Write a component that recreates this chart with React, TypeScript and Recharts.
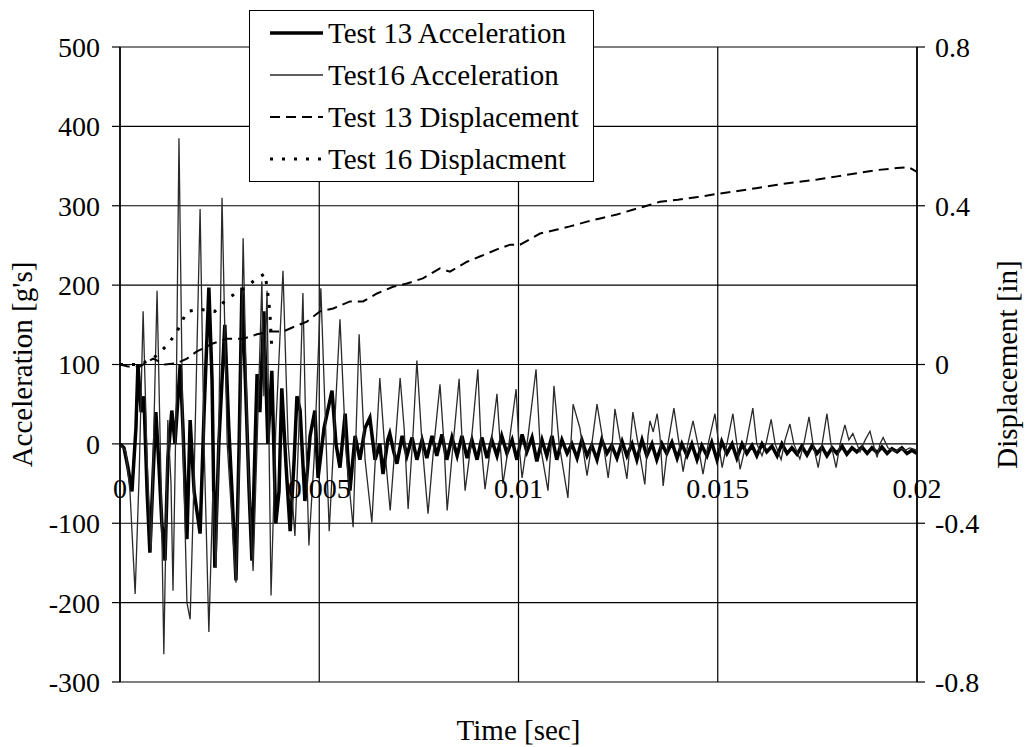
import React from "react"
import { LineChart, Line, XAxis, YAxis, CartesianGrid, Legend, Label } from "recharts"

const FONT = "Liberation Serif"

// all times in ms, converted to seconds for the axis
const test13AccTime = [
  0, 0.1, 0.2, 0.3, 0.4, 0.45, 0.53, 0.6, 0.68, 0.75, 0.83, 0.9, 0.98, 1.05, 1.13, 1.2, 1.3, 1.38, 1.51, 1.58,
  1.68, 1.76, 1.86, 2.01, 2.11, 2.23, 2.31, 2.38, 2.48, 2.63, 2.73, 2.81, 2.91, 2.99, 3.06, 3.16, 3.24, 3.31, 3.39, 3.44,
  3.51, 3.61, 3.71, 3.81, 3.91, 3.99, 4.06, 4.17, 4.27, 4.37, 4.44, 4.52, 4.64, 4.77, 4.89, 4.97, 5.12, 5.32, 5.42, 5.52,
  5.65, 5.77, 5.9, 6.02, 6.15, 6.27, 6.4, 6.52, 6.6, 6.72, 6.77, 6.87, 6.95, 7.08, 7.2, 7.33, 7.45, 7.58, 7.7, 7.83,
  7.95, 8.08, 8.2, 8.33, 8.46, 8.58, 8.71, 8.83, 8.96, 9.08, 9.21, 9.33, 9.46, 9.58, 9.71, 9.84, 9.96, 10.09, 10.21, 10.34,
  10.46, 10.59, 10.71, 10.84, 10.96, 11.09, 11.22, 11.34, 11.47, 11.59, 11.72, 11.84, 11.97, 12.09, 12.22, 12.34, 12.47, 12.6, 12.72, 12.85,
  12.97, 13.1, 13.22, 13.35, 13.47, 13.6, 13.72, 13.85, 13.98, 14.1, 14.23, 14.35, 14.48, 14.6, 14.73, 14.85, 14.98, 15.1, 15.23, 15.36,
  15.48, 15.61, 15.73, 15.86, 15.98, 16.11, 16.23, 16.36, 16.49, 16.61, 16.74, 16.86, 16.99, 17.11, 17.24, 17.37, 17.49, 17.62, 17.74, 17.87,
  17.99, 18.12, 18.24, 18.37, 18.49, 18.62, 18.75, 18.87, 19.0, 19.12, 19.25, 19.37, 19.5, 19.62, 19.75, 19.87, 20.0,
]
const test13AccValue = [
  0, -5, -30, -60, 20, 100, 40, 60, -60, -137, -40, 40, -30, -100, -147, -20, 42, 0, 100, 20,
  -120, 30, -60, -113, 40, 197, 80, -156, 0, 150, 20, -60, -172, 0, 197, 60, -60, -147, 0, 88,
  40, 167, 0, 92, -100, -60, 70, -30, -110, -20, 60, 42, -72, 10, 42, -43, 20, 67, 0, -30,
  38, -59, 10, -20, 20, 33, -20, 0, -38, 5, 13, -10, -25, 10, -15, 8, -20, 5, -18, 10,
  -15, 12, -20, 8, -15, 10, -18, 5, -20, 8, -18, 5, -15, 10, -12, 5, -20, 12, -10, 8,
  -22, 5, -15, 10, -20, 5, -12, 0, -18, 5, -15, -2, -20, 5, -12, -2, -18, 3, -15, 0,
  -20, 5, -15, 0, -20, 0, -12, 2, -18, 0, -15, 0, -20, -2, -15, 2, -20, 3, -12, 0,
  -18, 0, -12, -2, -15, 0, -10, -3, -15, 0, -12, -5, -13, -3, -14, -2, -12, -4, -15, -5,
  -12, -3, -13, -5, -10, -4, -12, -5, -11, -4, -12, -6, -10, -5, -12, -8, -12,
]

const test16AccTime = [
  0, 0.15, 0.25, 0.38, 0.48, 0.58, 0.68, 0.78, 0.85, 0.93, 1.03, 1.1, 1.2, 1.28, 1.33, 1.41, 1.48, 1.58, 1.68, 1.76,
  1.86, 2.01, 2.11, 2.23, 2.33, 2.41, 2.48, 2.56, 2.69, 2.79, 2.91, 3.01, 3.09, 3.21, 3.34, 3.44, 3.56, 3.61, 3.69, 3.79,
  3.91, 4.09, 4.22, 4.39, 4.49, 4.59, 4.67, 4.74, 4.87, 5.04, 5.25, 5.52, 5.67, 5.85, 6.0, 6.15, 6.32, 6.52, 6.65, 6.78,
  7.03, 7.13, 7.23, 7.35, 7.45, 7.58, 7.73, 7.88, 8.03, 8.13, 8.21, 8.36, 8.51, 8.58, 8.66, 8.81, 8.98, 9.06, 9.16, 9.31,
  9.46, 9.54, 9.61, 9.76, 9.94, 10.01, 10.09, 10.24, 10.44, 10.54, 10.74, 10.82, 10.89, 11.02, 11.24, 11.37, 11.54, 11.72, 11.84, 11.97,
  12.1, 12.25, 12.35, 12.42, 12.55, 12.72, 12.8, 12.87, 13.0, 13.17, 13.25, 13.3, 13.38, 13.48, 13.55, 13.63, 13.75, 13.9, 14.03, 14.13,
  14.25, 14.38, 14.5, 14.63, 14.76, 14.93, 15.01, 15.11, 15.23, 15.38, 15.48, 15.56, 15.71, 15.88, 15.98, 16.11, 16.21, 16.34, 16.44, 16.59,
  16.69, 16.81, 16.91, 17.06, 17.16, 17.29, 17.39, 17.52, 17.62, 17.74, 17.84, 17.97, 18.07, 18.19, 18.29, 18.39, 18.49, 18.57, 18.7, 18.82,
  18.9, 19.0, 19.07, 19.15, 19.27, 19.45, 19.57, 19.7, 19.82, 20.0,
]
const test16AccValue = [
  0, -10, -60, -189, -40, 167, -20, -135, 20, 193, -50, -265, 30, -50, -185, 50, 385, 0, -200, -221,
  -40, 296, 0, -237, -60, -156, 20, 310, 0, -80, -175, 0, 259, -20, -160, 0, 205, 60, 193, -191,
  20, 218, 0, -116, 20, 190, 0, -128, -20, 196, -110, 157, -10, -105, 138, -20, -99, 83, -10, -84,
  83, 20, -82, 10, 105, 0, -88, 0, 75, 0, -84, 0, 82, 10, -59, 0, 94, 0, -57, 0,
  63, 0, -50, 0, 69, 0, -43, 10, 94, 0, -59, 0, 73, 0, -68, 50, 20, -40, 0, 50,
  10, -43, 0, 44, 5, -44, 0, 40, 0, -51, 10, 29, 15, 38, 10, -53, 0, 45, 0, -35,
  0, 29, 0, -38, 0, 38, 5, -30, 0, 38, 0, -32, 0, 45, 0, -15, 0, 31, 0, -20,
  5, 25, 0, -19, 0, 34, 0, -30, 0, 38, 0, -30, 0, 24, 5, 13, 0, -10, 5, 16,
  0, -17, 0, 8, -5, -10, -5, -8, -5, -8,
]

const test13DispTime = [
  0, 0.2, 0.5, 0.83, 1.13, 1.43, 1.68, 1.93, 2.08, 2.33, 2.69, 3.09, 3.44, 3.76, 4.09, 4.39, 4.69, 5.02, 5.35, 5.77,
  6.1, 6.45, 6.85, 7.2, 7.6, 8.03, 8.28, 8.71, 9.03, 9.46, 9.79, 10.04, 10.54, 10.97, 11.29, 11.72, 12.05, 12.47, 12.87, 13.22,
  13.55, 14.0, 14.5, 15.0, 15.5, 16.0, 16.5, 17.0, 17.5, 18.0, 18.5, 19.0, 19.5, 19.8, 20.0,
]
const test13DispValue = [
  0, -0.005, -0.005, 0.015, 0, 0.003, 0.015, 0.033, 0.04, 0.053, 0.065, 0.065, 0.076, 0.083, 0.083, 0.096, 0.108, 0.134, 0.141, 0.159,
  0.159, 0.179, 0.196, 0.204, 0.217, 0.242, 0.234, 0.259, 0.272, 0.29, 0.302, 0.302, 0.33, 0.34, 0.348, 0.36, 0.368, 0.378, 0.39, 0.4,
  0.41, 0.415, 0.422, 0.43, 0.437, 0.445, 0.453, 0.46, 0.466, 0.474, 0.482, 0.49, 0.495, 0.497, 0.485,
]

const test16DispTime = [0, 0.5, 0.83, 1.2, 1.43, 1.68, 2.01, 2.38, 2.69, 3.09, 3.44, 3.64, 3.71, 3.76, 3.81]
const test16DispValue = [0, 0, 0.015, 0.05, 0.083, 0.134, 0.139, 0.134, 0.166, 0.19, 0.217, 0.229, 0.179, 0.134, 0.038]

const timeTicks = [0, 0.005, 0.01, 0.015, 0.02]
const accTicks = [-300, -200, -100, 0, 100, 200, 300, 400, 500]
const dispTicks = [-0.8, -0.4, 0, 0.4, 0.8]

const toPoints = (times: number[], values: number[]) => times.map((t, i) => ({ t: t / 1000, v: values[i] }))

const series = [
  { name: "Test 13 Acceleration", data: toPoints(test13AccTime, test13AccValue), axis: "left", color: "#000", width: 3.5, dash: undefined },
  { name: "Test16 Acceleration", data: toPoints(test16AccTime, test16AccValue), axis: "left", color: "#2a2a2a", width: 1.3, dash: undefined },
  { name: "Test 13 Displacement", data: toPoints(test13DispTime, test13DispValue), axis: "right", color: "#000", width: 2, dash: "10 6" },
  { name: "Test 16 Displacment", data: toPoints(test16DispTime, test16DispValue), axis: "right", color: "#000", width: 3, dash: "3 9" },
]

const tickStyle = { fill: "#000", fontSize: 28, fontFamily: FONT }

function XTick({ x, y, payload }: any) {
  // labels sit just under the zero line, not at the bottom of the plot
  return (
    <text x={x} y={y - 184} textAnchor="middle" fill="#000" fontSize={28} fontFamily={FONT}>
      {String(payload.value)}
    </text>
  )
}

function LegendBox() {
  return (
    <div
      style={{
        width: 345,
        height: 172,
        border: "1.5px solid #000",
        background: "#fff",
        boxSizing: "border-box",
        paddingTop: 1,
        fontFamily: FONT,
        fontSize: 29,
        color: "#000",
      }}
    >
      {series.map((s) => (
        <div key={s.name} style={{ display: "flex", alignItems: "center", height: 42, whiteSpace: "nowrap" }}>
          <svg width={78} height={10} style={{ flex: "none" }}>
            <line x1={20} x2={73} y1={5} y2={5} stroke={s.color} strokeWidth={s.width} strokeDasharray={s.dash} />
          </svg>
          <span>{s.name}</span>
        </div>
      ))}
    </div>
  )
}

const leftTitle = (props: any) => {
  const { x, y, height } = props.viewBox
  const cx = x + 22
  const cy = y + height / 2
  return (
    <text x={cx} y={cy} transform={`rotate(-90 ${cx} ${cy})`} textAnchor="middle" dominantBaseline="central" fill="#000" fontSize={29} fontFamily={FONT}>
      Acceleration [g's]
    </text>
  )
}

const rightTitle = (props: any) => {
  const { x, y, height } = props.viewBox
  const cx = x + 90
  const cy = y + height / 2
  return (
    <text x={cx} y={cy} transform={`rotate(-90 ${cx} ${cy})`} textAnchor="middle" dominantBaseline="central" fill="#000" fontSize={29} fontFamily={FONT}>
      Displacement [in]
    </text>
  )
}

const bottomTitle = (props: any) => {
  const { x, y, width } = props.viewBox
  return (
    <text x={x + width / 2} y={y + 58} textAnchor="middle" fill="#000" fontSize={29} fontFamily={FONT}>
      Time [sec]
    </text>
  )
}

export default function App() {
  return (
    <div style={{ position: "absolute", left: 0, top: 0, background: "#fff", fontFamily: FONT }}>
      <LineChart width={1028} height={747} margin={{ top: 47, right: 0, bottom: 0, left: 0 }}>
        <CartesianGrid yAxisId="left" stroke="#000" strokeWidth={1.2} />
        <XAxis
          type="number"
          dataKey="t"
          domain={[0, 0.02]}
          ticks={timeTicks}
          interval={0}
          allowDataOverflow
          height={65}
          axisLine={false}
          tickLine={false}
          tickSize={0}
          tickMargin={0}
          tick={<XTick />}
        >
          <Label content={bottomTitle} />
        </XAxis>
        <YAxis
          yAxisId="left"
          domain={[-300, 500]}
          ticks={accTicks}
          interval={0}
          allowDataOverflow
          width={120}
          tickSize={8}
          tickMargin={12}
          tick={tickStyle}
          axisLine={{ stroke: "#000", strokeWidth: 1.5 }}
          tickLine={{ stroke: "#000", strokeWidth: 1.2 }}
        >
          <Label content={leftTitle} />
        </YAxis>
        <YAxis
          yAxisId="right"
          orientation="right"
          domain={[-0.8, 0.8]}
          ticks={dispTicks}
          interval={0}
          allowDataOverflow
          width={111}
          tickSize={8}
          tickMargin={10}
          tick={tickStyle}
          axisLine={{ stroke: "#000", strokeWidth: 1.5 }}
          tickLine={{ stroke: "#000", strokeWidth: 1.2 }}
        >
          <Label content={rightTitle} />
        </YAxis>
        {series.map((s) => (
          <Line
            key={s.name}
            data={s.data}
            dataKey="v"
            name={s.name}
            yAxisId={s.axis}
            type="linear"
            stroke={s.color}
            strokeWidth={s.width}
            strokeDasharray={s.dash}
            dot={false}
            activeDot={false}
            isAnimationActive={false}
          />
        ))}
        <Legend
          layout="vertical"
          align="center"
          verticalAlign="middle"
          content={<LegendBox />}
          wrapperStyle={{ left: 249, top: 10, width: 345, height: 172 }}
        />
      </LineChart>
    </div>
  )
}
